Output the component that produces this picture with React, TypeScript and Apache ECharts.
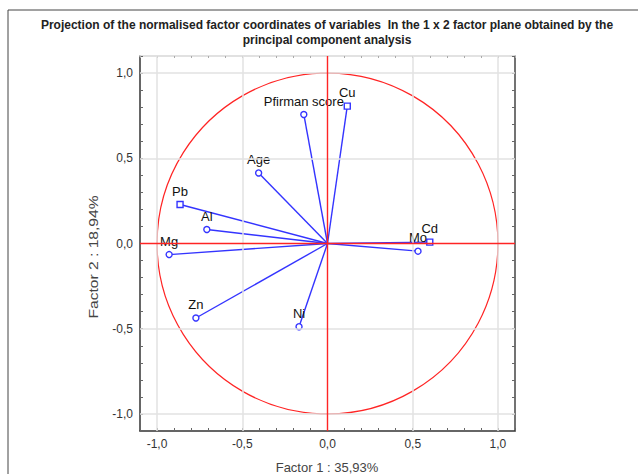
import React, { useEffect, useRef } from "react";
import * as echarts from "echarts";

const variables = ["Cu", "Pfirman score", "Age", "Pb", "Al", "Mg", "Zn", "Ni", "Mo", "Cd"];
const factor1 = [0.116, -0.139, -0.404, -0.865, -0.708, -0.929, -0.772, -0.167, 0.531, 0.6];
const factor2 = [0.806, 0.757, 0.414, 0.229, 0.082, -0.065, -0.437, -0.488, -0.045, 0.008];
const markerShapes = ["rect", "circle", "circle", "rect", "circle", "circle", "circle", "circle", "circle", "rect"];
const gridValues = [-1, -0.5, 0.5, 1];
const unitCircle = [[0, 0, 1]];

const titleLine1 = "Projection of the normalised factor coordinates of variables  In the 1 x 2 factor plane obtained by the";
const titleLine2 = "principal component analysis";
const xName = "Factor 1 : 35,93%";
const yName = "Factor 2 : 18,94%";

const FONT = "Arial, 'Liberation Sans', sans-serif";
const BLUE = "#3434ff";
const RED = "#ff2424";

const fmt = (v: number) => {
  const major = Math.abs(v * 2 - Math.round(v * 2)) < 1e-6;
  if (!major) return "";
  const r = Math.round(v * 2) / 2;
  return r.toFixed(1).replace(".", ",");
};

export default function App() {
  const ref = useRef<HTMLDivElement>(null);
  useEffect(() => {
    if (!ref.current) return;
    const chart = echarts.init(ref.current, null, { renderer: "svg" });
    const axisCommon = {
      type: "value",
      min: -1.1,
      max: 1.1,
      interval: 0.1,
      splitLine: { show: false },
    };
    const vectorSeries = variables.map((name, i) => ({
      type: "line",
      name,
      z: 4,
      animation: false,
      lineStyle: { color: BLUE, width: 1.4 },
      itemStyle: { color: "#ffffff", borderColor: BLUE, borderWidth: 1.4 },
      data: [
        { value: [0, 0], symbol: "none" },
        {
          value: [factor1[i], factor2[i]],
          symbol: markerShapes[i],
          symbolSize: 6,
          label: {
            show: true,
            position: "top",
            distance: 3,
            formatter: name,
            color: "#111",
            fontSize: 13,
            fontFamily: FONT,
          },
        },
      ],
    }));
    const tickLabel = { formatter: fmt, interval: 0, margin: 7, color: "#333", fontSize: 12, fontFamily: FONT, hideOverlap: false };
    chart.setOption({
      animation: false,
      backgroundColor: "#ffffff",
      grid: { left: 140, top: 56, width: 375, height: 375, containLabel: false },
      xAxis: [
        {
          ...axisCommon,
          position: "bottom",
          axisLine: { show: true, onZero: false, lineStyle: { color: "#333", width: 1.5 } },
          axisTick: { show: true, inside: true, length: 3, lineStyle: { color: "#666" } },
          axisLabel: tickLabel,
        },
        {
          ...axisCommon,
          position: "top",
          axisLine: { show: true, onZero: false, lineStyle: { color: "#d8d8d8", width: 1.5 } },
          axisTick: { show: true, inside: true, length: 2, lineStyle: { color: "#aaa" } },
          axisLabel: { show: false },
        },
      ],
      yAxis: [
        {
          ...axisCommon,
          position: "left",
          axisLine: { show: true, onZero: false, lineStyle: { color: "#333", width: 1.5 } },
          axisTick: { show: true, inside: true, length: 3, lineStyle: { color: "#666" } },
          axisLabel: tickLabel,
        },
        {
          ...axisCommon,
          position: "right",
          axisLine: { show: true, onZero: false, lineStyle: { color: "#444", width: 1.5 } },
          axisTick: { show: true, inside: true, length: 3, lineStyle: { color: "#666" } },
          axisLabel: { show: false },
        },
      ],
      graphic: [
        {
          type: "rect",
          shape: { x: 8, y: 10, width: 700, height: 520 },
          style: { fill: "none", stroke: "#444", lineWidth: 1 },
          silent: true,
          z: 0,
        },
        {
          type: "text",
          x: 327,
          y: 25,
          style: { text: titleLine1, textAlign: "center", textVerticalAlign: "middle", font: `bold 12px ${FONT}`, fill: "#222" },
        },
        {
          type: "text",
          x: 327,
          y: 40,
          style: { text: titleLine2, textAlign: "center", textVerticalAlign: "middle", font: `bold 12px ${FONT}`, fill: "#222" },
        },
        {
          type: "text",
          x: 327,
          y: 467,
          style: { text: xName, textAlign: "center", textVerticalAlign: "middle", font: `13px ${FONT}`, fill: "#444" },
        },
        {
          type: "text",
          x: 94,
          y: 257,
          rotation: Math.PI / 2,
          scaleX: 1.3,
          style: { text: yName, textAlign: "center", textVerticalAlign: "middle", font: `12px ${FONT}`, fill: "#444" },
        },
      ],
      series: [
        {
          type: "line",
          data: [],
          z: 1,
          markLine: {
            silent: true,
            symbol: "none",
            animation: false,
            label: { show: false },
            lineStyle: { color: "#e2e2e2", width: 1.5, type: "solid" },
            data: [
              ...gridValues.map((v) => ({ xAxis: v })),
              ...gridValues.map((v) => ({ yAxis: v })),
            ],
          },
        },
        {
          type: "line",
          data: [],
          z: 3,
          markLine: {
            silent: true,
            symbol: "none",
            animation: false,
            label: { show: false },
            lineStyle: { color: RED, width: 1.4, type: "solid" },
            data: [{ xAxis: 0 }, { yAxis: 0 }],
          },
        },
        {
          type: "custom",
          z: 3,
          silent: true,
          clip: false,
          data: unitCircle,
          renderItem: (params: any, api: any) => {
            const c = api.coord([api.value(0), api.value(1)]);
            const r = api.size([api.value(2), 0])[0];
            return {
              type: "circle",
              shape: { cx: c[0], cy: c[1], r },
              style: { fill: "none", stroke: RED, lineWidth: 1.2 },
            };
          },
        },
        ...vectorSeries,
      ],
    });
    return () => chart.dispose();
  }, []);
  return <div ref={ref} style={{ position: "absolute", left: 0, top: 0, width: 638, height: 474 }} />;
}
